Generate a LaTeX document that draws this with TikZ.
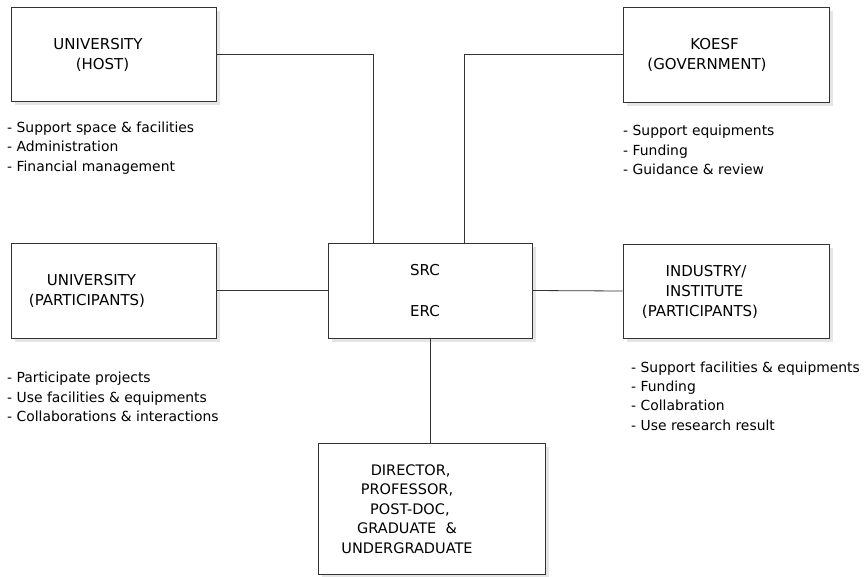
\documentclass[tikz,border=0pt]{standalone}
\usepackage{fontspec}
\setmainfont{DejaVu Sans}
\usetikzlibrary{shadows}
\begin{document}
\begin{tikzpicture}[x=1pt,y=-1pt,
  box/.style={draw=black!80, line width=0.8pt, fill=white, rectangle, inner sep=0pt,
    drop shadow={shadow xshift=4pt, shadow yshift=-4pt, fill=black!10, opacity=1}},
  lbl/.style={align=center, font=\fontsize{15}{20}\selectfont, inner sep=0pt},
  lst/.style={align=left, anchor=west, font=\fontsize{13.9}{19.3}\selectfont, inner sep=0pt},
  wire/.style={draw=black!80, line width=0.8pt}]
\useasboundingbox (0,0) rectangle (864,576);
% boxes
\node[box, minimum width=205pt, minimum height=94pt] (host) at (113.5,54) {};
\node[box, minimum width=206pt, minimum height=95pt] (koesf) at (726,54.5) {};
\node[box, minimum width=205pt, minimum height=95pt] (upart) at (113.5,290.5) {};
\node[box, minimum width=204pt, minimum height=95pt] (src) at (430,290.5) {};
\node[box, minimum width=206pt, minimum height=94pt] (ind) at (726,291) {};
\node[box, minimum width=227pt, minimum height=131pt] (dir) at (431.5,508.5) {};
% box texts
\node[lbl] (hostt) at (98,55) {UNIVERSITY\\\hspace*{0.6em}(HOST)};
\node[lbl] (koesft) at (707,55) {\hspace*{1em}KOESF\\(GOVERNMENT)};
\node[lbl] (upartt) at (87,291) {\hspace*{0.6em}UNIVERSITY\\(PARTICIPANTS)};
\node[lbl] (srct1) at (425,270) {SRC};
\node[lbl] (srct2) at (425,311) {ERC};
\node[lbl] (indt) at (700,292) {\hspace*{0.8em}INDUSTRY/\\\hspace*{0.6em}INSTITUTE\\(PARTICIPANTS)};
\node[lbl, font=\fontsize{14.5}{19.5}\selectfont] (dirt) at (407,509) {\hspace*{0.5em}DIRECTOR,\\PROFESSOR,\\\hspace*{0.4em}POST-DOC,\\GRADUATE~~\&\\UNDERGRADUATE};
% lists
\node[lst] (hostl) at (7,148) {- Support space \& facilities\\- Administration\\- Financial management};
\node[lst] (koesfl) at (623,150) {- Support equipments\\- Funding\\- Guidance \& review};
\node[lst] (upartl) at (7,397) {- Participate projects\\- Use facilities \& equipments\\- Collaborations \& interactions};
\node[lst] (indl) at (631,396) {- Support facilities \& equipments\\- Funding\\- Collabration\\- Use research result};
% connectors
\draw[wire] (host.east) -| ([xshift=-57pt]src.north);
\draw[wire] (koesf.west) -| ([xshift=34pt]src.north);
\draw[wire] (upart.east) -- (src.west);
\draw[wire] (src.east) -- (ind.west);
\draw[wire] (src.south) -- (src.south |- dir.north);
\end{tikzpicture}
\end{document}
